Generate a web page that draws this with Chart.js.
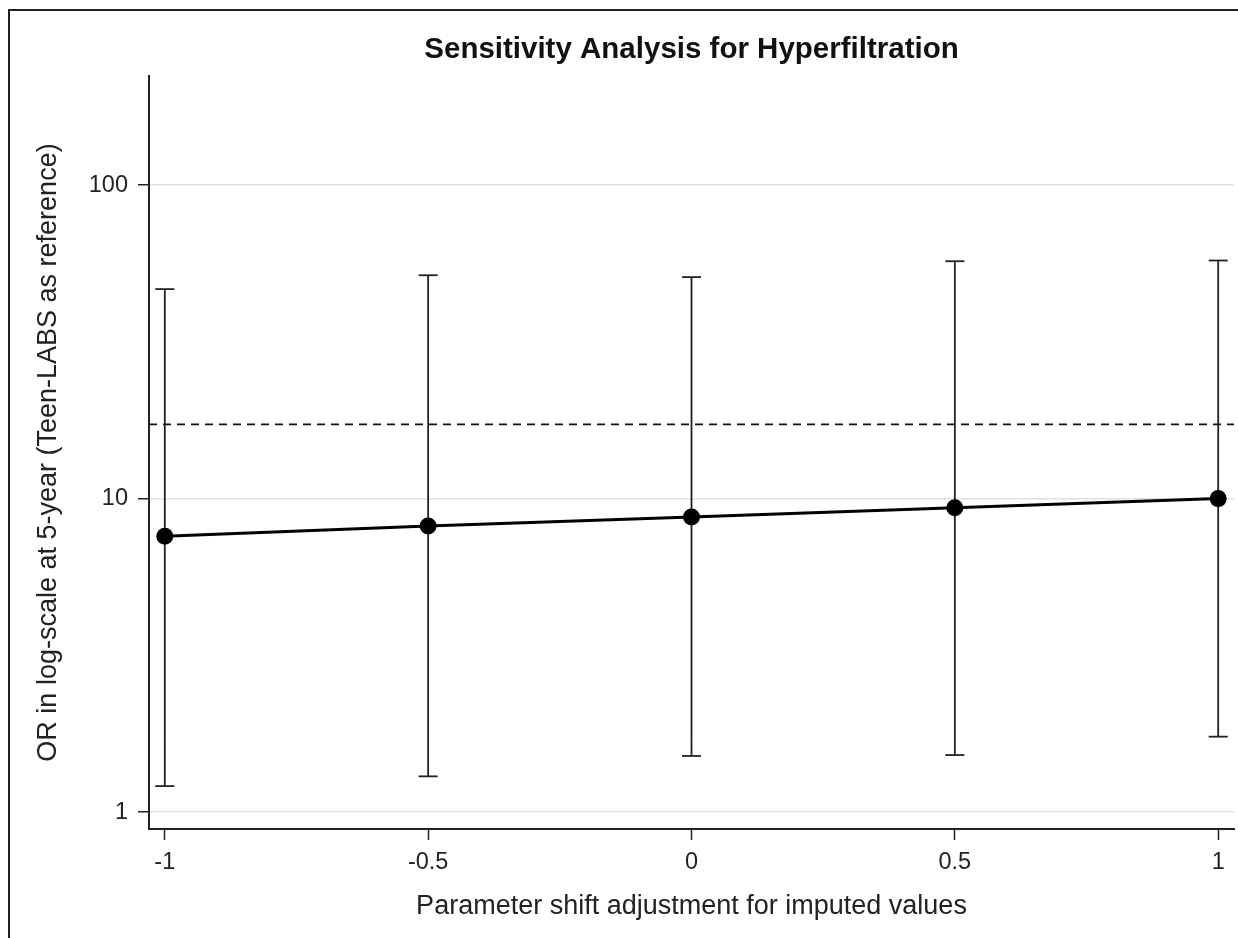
<!DOCTYPE html>
<html>
<head>
<meta charset="utf-8">
<script src="https://cdn.jsdelivr.net/npm/chart.js@4.4.1/dist/chart.umd.min.js"></script>
<style>
  html, body { margin: 0; padding: 0; background: #fff; }
  #wrap { position: relative; width: 1238px; height: 938px; overflow: hidden; }
  #frame { position: absolute; left: 8px; top: 9px; width: 1240px; height: 940px; border: 2px solid #222; pointer-events: none; }
</style>
</head>
<body>
<div id="wrap">
  <canvas id="sensitivity-chart" width="1238" height="938"></canvas>
  <div id="frame"></div>
</div>
<script>
// values
const shifts = [-1, -0.5, 0, 0.5, 1];
const oddsRatio = [7.59, 8.18, 8.73, 9.35, 10.0];
const ciLower = [1.21, 1.30, 1.51, 1.52, 1.74];
const ciUpper = [46.6, 51.6, 50.9, 57.2, 57.5];
const referenceOR = 17.25;
const xTicks = [-1, -0.5, 0, 0.5, 1];
const yTicks = [1, 10, 100];
const xMin = -1.03, xMax = 1.03;
const yMin = 0.883, yMax = 223;

Chart.defaults.font.family = "'Liberation Sans', Arial, sans-serif";
Chart.defaults.color = '#222';

// error bars as one line dataset broken by gaps
const errorBars = [];
shifts.forEach((x, i) => {
    errorBars.push({x: x, y: ciLower[i]});
    errorBars.push({x: x, y: ciUpper[i]});
    errorBars.push({x: x, y: null});
});

new Chart(document.getElementById('sensitivity-chart'), {
    type: 'line',
    data: {
        datasets: [
            {
                data: shifts.map((x, i) => ({x: x, y: oddsRatio[i]})),
                borderColor: '#000',
                borderWidth: 3,
                pointRadius: 8.5,
                pointBackgroundColor: '#000',
                pointBorderColor: '#000',
                pointBorderWidth: 0
            },
            {
                data: errorBars,
                borderColor: '#222',
                borderWidth: 1.8,
                spanGaps: false,
                pointStyle: 'line',
                pointRadius: 9.5,
                pointBorderWidth: 1.8,
                pointBorderColor: '#222'
            },
            {
                data: [{x: xMin, y: referenceOR}, {x: xMax, y: referenceOR}],
                borderColor: '#111',
                borderWidth: 1.8,
                borderDash: [8, 6],
                pointRadius: 0
            }
        ]
    },
    options: {
        responsive: false,
        animation: false,
        devicePixelRatio: 1,
        layout: { autoPadding: false, padding: { left: 0, right: 4, top: 0, bottom: 0 } },
        plugins: {
            legend: { display: false },
            tooltip: { enabled: false },
            title: {
                display: true,
                text: 'Sensitivity Analysis for Hyperfiltration',
                fullSize: false,
                color: '#111',
                font: { size: 29.5, weight: 'bold' },
                padding: { top: 32, bottom: 8.6 }
            }
        },
        scales: {
            x: {
                type: 'linear',
                min: xMin,
                max: xMax,
                afterBuildTicks: s => { s.ticks = xTicks.map(v => ({value: v})); },
                afterFit: s => { s.height = 109; s.paddingLeft = 0; s.paddingRight = 0; },
                border: { color: '#222', width: 2 },
                grid: { drawOnChartArea: false, tickLength: 11, tickColor: '#222', tickWidth: 1.5 },
                ticks: {
                    font: { size: 23.5 },
                    color: '#222',
                    padding: 8,
                    maxRotation: 0,
                    callback: v => String(v)
                },
                title: {
                    display: true,
                    text: 'Parameter shift adjustment for imputed values',
                    color: '#222',
                    font: { size: 27 },
                    padding: { top: 0, bottom: 15 }
                }
            },
            y: {
                type: 'logarithmic',
                min: yMin,
                max: yMax,
                afterBuildTicks: s => { s.ticks = yTicks.map(v => ({value: v})); },
                afterFit: s => { s.width = 149; },
                border: { color: '#222', width: 2 },
                grid: { color: '#e2e2e2', lineWidth: 1.5, tickLength: 11, tickColor: '#222', tickWidth: 1.5 },
                ticks: {
                    font: { size: 23.5 },
                    color: '#222',
                    padding: 10,
                    callback: v => String(v)
                },
                title: {
                    display: true,
                    text: 'OR in log-scale at 5-year (Teen-LABS as reference)',
                    color: '#222',
                    font: { size: 27 },
                    padding: { top: 32, bottom: 0 }
                }
            }
        }
    }
});
</script>
</body>
</html>
